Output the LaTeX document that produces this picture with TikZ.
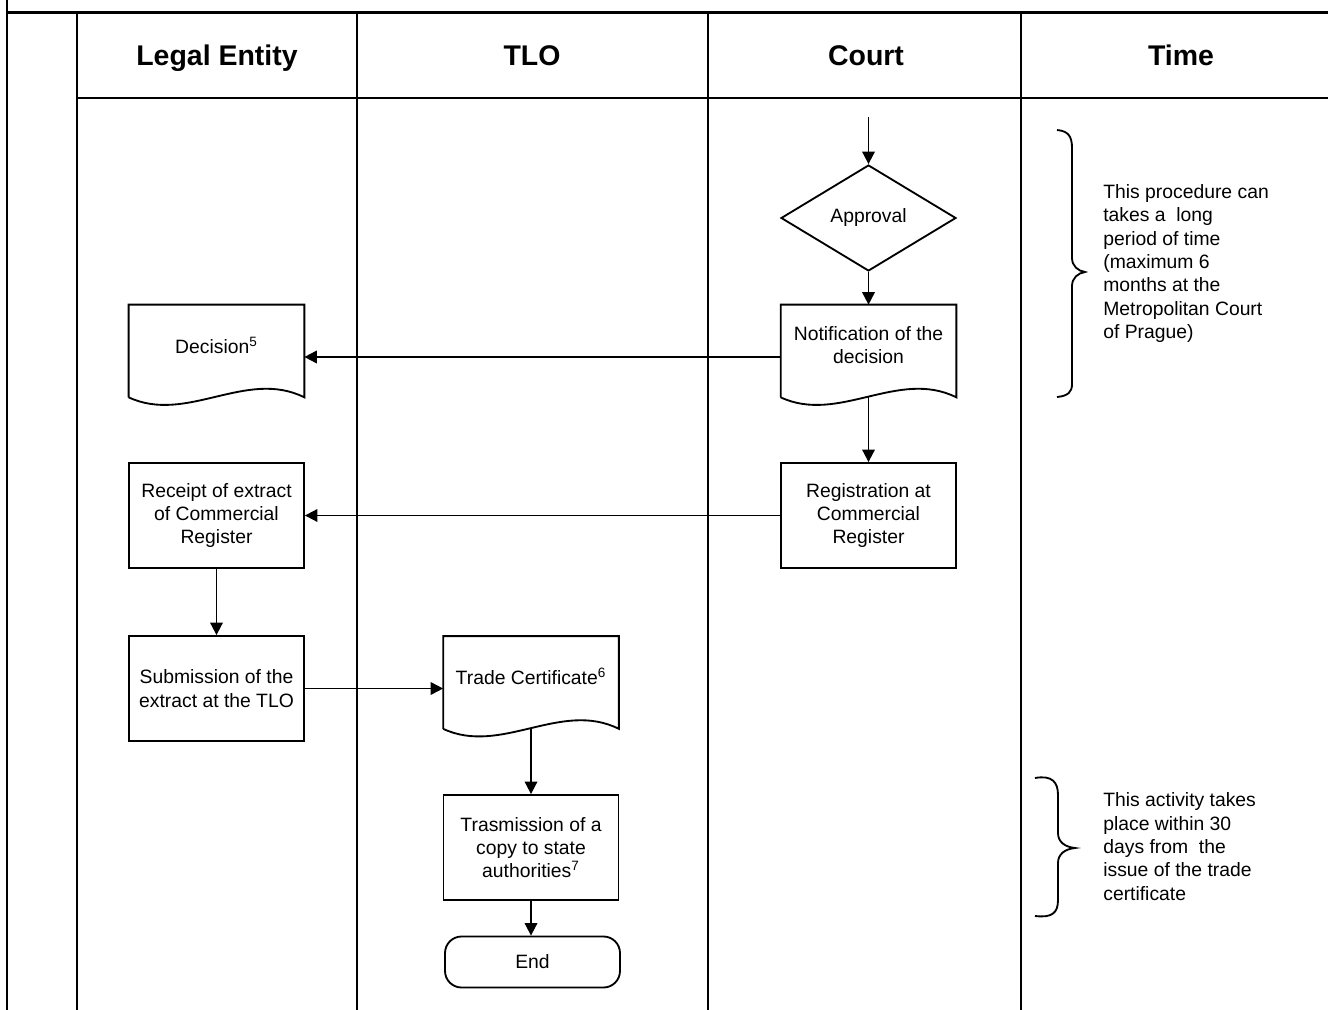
\documentclass[tikz,border=0pt]{standalone}
\usepackage{fontspec}
\setmainfont{Liberation Sans}
\usetikzlibrary{arrows.meta,shapes.geometric,calc}

\tikzset{
  grid/.style={line width=1.1pt},
  shapeline/.style={line width=1.05pt},
  bodytext/.style={font=\fontsize{11}{13.3}\selectfont, align=center},
  hdr/.style={font=\fontsize{16.2}{19}\selectfont\bfseries, anchor=base},
  procbox/.style={bodytext, draw, shapeline, minimum width=3.5cm, minimum height=2.1cm, inner sep=2pt},
  docbox/.style={minimum width=3.5cm, minimum height=1.84cm, inner sep=0pt},
  decbox/.style={bodytext, draw, shapeline, diamond, aspect=1.65, minimum width=3.5cm, minimum height=2.12cm, inner sep=0pt},
  endbox/.style={bodytext, draw, shapeline, rounded corners=0.33cm, minimum width=3.5cm, minimum height=1.02cm},
  arr/.style={shapeline, -{Triangle[length=0.25cm, width=0.25cm]}},
  bracetext/.style={font=\fontsize{11}{13.3}\selectfont, align=left, anchor=west, inner sep=0pt},
}

% document symbol: box with a wavy lower edge, its caption sits a little above centre
\newcommand\docshape[4]{%
  \node[docbox] (#1) at (#2) {};
  \draw[shapeline] (#1.south west) -- (#1.north west) -- (#1.north east) -- (#1.south east)
    .. controls ([shift={(-58,-29)}]#1.south east) and ([shift={(58,27)}]#1.south west) .. (#1.south west);
  \node[bodytext] (#3) at ([yshift=0.12cm]#1.center) {#4};}

\begin{document}
\begin{tikzpicture}[x=0.02cm, y=-0.02cm]
\useasboundingbox (0,0) rectangle (1328,1010);

% swimlane table
\draw[line width=1.4pt] (7,0) -- (7,1010);
\draw[line width=1.9pt] (7,12.3) -- (1328,12.3);
\draw[grid] (77,13) -- (77,1010);
\draw[grid] (77,98) -- (1328,98);
\draw[grid] (357,13) -- (357,1010);
\draw[grid] (708,13) -- (708,1010);
\draw[grid] (1021,13) -- (1021,1010);

\node[hdr] (hle) at (217,65.5) {Legal Entity};
\node[hdr] (htlo) at (532,65.5) {TLO};
\node[hdr] (hcourt) at (866,65.5) {Court};
\node[hdr] (htime) at (1181,65.5) {Time};

% court lane
\coordinate (start) at (868.5,117);
\node[decbox] (appr) at (868.5,218) {Approval};
\docshape{notif}{868.5,351}{notifT}{Notification of the\\decision}
\node[procbox] (reg) at (868.5,515.5) {Registration at\\Commercial\\Register};

% legal entity lane
\docshape{dec}{216.5,351}{decT}{Decision\textsuperscript{5}}
\node[procbox] (rcpt) at (216.5,515.5) {Receipt of extract\\of Commercial\\Register};
\node[procbox] (subm) at (216.5,688.5) {Submission of the\\extract at the TLO};

% TLO lane
\docshape{trade}{531,682.5}{tradeT}{Trade Certificate\textsuperscript{6}}
\node[procbox] (trans) at (531,847.5) {Trasmission of a\\copy to state\\authorities\textsuperscript{7}};
\node[endbox] (end) at (532.5,962) {End};

% connectors
\draw[arr] (start) -- (appr.north);
\draw[arr] (appr.south) -- (notif.north);
\draw[arr] ([yshift=-0.12cm]notif.west) -- ([yshift=-0.12cm]dec.east);
\draw[arr] (notif.south) -- (reg.north);
\draw[arr] (reg.west) -- (rcpt.east);
\draw[arr] (rcpt.south) -- (subm.north);
\draw[arr] (subm.east) -- (subm.east -| trade.west);
\draw[arr] (trade.south) -- (trans.north);
\draw[arr] (trans.south) -- (trans.south |- end.north);

% time annotations
\draw[shapeline] (1057,130) .. controls (1068,131) and (1072,136) .. (1072,148) -- (1072,258)
  .. controls (1072,266) and (1078,271) .. (1085,272)
  .. controls (1078,273) and (1072,278) .. (1072,286) -- (1072,384)
  .. controls (1072,392) and (1068,396) .. (1057,397);
\node[bracetext] (t1) at (1103,263.5) {This procedure can\\takes a\ \ long\\period of time\\(maximum 6\\months at the\\Metropolitan Court\\of Prague)};

\draw[shapeline] (1035,778) .. controls (1052,775) and (1058,782) .. (1058,795) -- (1058,833)
  .. controls (1058,842) and (1065,847) .. (1075,848)
  .. controls (1065,849) and (1058,854) .. (1058,863) -- (1058,900)
  .. controls (1058,913) and (1052,918) .. (1035,916);
\node[bracetext] (t2) at (1103,846.5) {This activity takes\\place within 30\\days from\ \ the\\issue of the trade\\certificate};
\end{tikzpicture}
\end{document}
